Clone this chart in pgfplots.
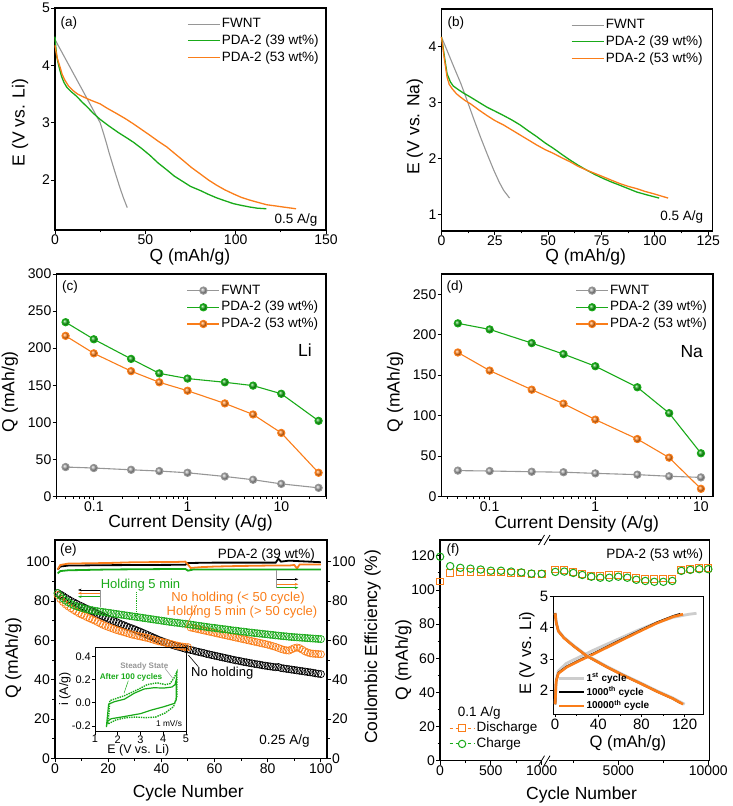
\documentclass[border=0pt]{standalone}
\usepackage{fontspec}
\setmainfont{Liberation Sans}
\usepackage{pgfplots}
\pgfplotsset{compat=1.18}
\usetikzlibrary{arrows.meta}
\definecolor{cgreen}{RGB}{25,170,25}
\definecolor{corange}{RGB}{250,125,25}
\definecolor{cgray}{RGB}{150,150,150}
\definecolor{cball}{RGB}{165,165,165}
\definecolor{clgray}{RGB}{205,205,205}
\newcommand{\ft}{\fontsize{14}{16}\selectfont}
\newcommand{\fl}{\fontsize{17.5}{20}\selectfont}
\newcommand{\fg}{\fontsize{13.5}{16}\selectfont}
\pgfplotsset{
 base/.style={scale only axis, anchor=south west,
   axis line style={line width=1.1pt},
   tick style={line width=0.9pt, black},
   tick align=outside, major tick length=4pt, minor tick length=2.5pt,
   xtick pos=bottom, ytick pos=left,
   tick label style={font=\ft, inner sep=1pt}, label style={font=\fl},
   /pgf/number format/assume math mode=true, clip=false},
 leg/.style={legend cell align=left, legend style={draw=none, fill=none, font=\fg, row sep=1.7pt, inner sep=0pt,
   nodes={inner sep=1.5pt, text height=9.5pt, text depth=2.5pt}}},
 ballleg/.style={legend image code/.code={\draw[mark repeat=2,mark phase=2,##1] plot coordinates {(0pt,0pt) (16pt,0pt) (32pt,0pt)};}},
 shortleg/.style={legend image code/.code={\draw[mark repeat=2,mark phase=2,##1] plot coordinates {(0pt,0pt) (12.5pt,0pt) (25pt,0pt)};}},
 xl/.style 2 args={xlabel style={at={(axis description cs:#1,#2)},anchor=center}},
 yl/.style 2 args={ylabel style={at={(axis description cs:#1,#2)},anchor=center}},
 logx/.style={x filter/.expression={log10(x)}, xtick={-1,0,1}, xticklabels={0.1,1,10},
   minor xtick={-1.398,-1.301,-1.222,-1.155,-1.097,-1.046,-0.699,-0.523,-0.398,-0.301,-0.222,-0.155,-0.097,-0.046,0.301,0.477,0.602,0.699,0.778,0.845,0.903,0.954,1.301,1.477}},
}
\begin{document}
\begin{tikzpicture}[x=1pt,y=1pt]
\useasboundingbox (0,0) rectangle (732,806);
% ---------------- (a)
\begin{axis}[base, leg, ballleg, at={(55pt,576pt)}, width=271pt, height=222pt,
  xmin=0, xmax=150, ymin=1.13, ymax=5, xtick={0,50,100,150}, ytick={2,3,4,5},
  minor x tick num=1, xlabel={Q (mAh/g)}, ylabel={E (V vs. Li)},
  xl={0.498}{-0.122}, yl={-0.129}{0.484},
  legend style={at={(axis description cs:0.487,0.962)}, anchor=north west}]
\addplot[cgray, line width=1.1pt] coordinates {(0,4.45) (5,4.16) (10,3.87) (15,3.58) (20,3.29) (25,3.0) (27,2.8) (28.5,2.64) (30,2.47) (33,2.16) (36,1.86) (38,1.68) (40,1.52)};
\addlegendentry{FWNT}
\addplot[cgreen, line width=1.3pt] coordinates {(0,4.5) (0.5,4.3) (1,4.15) (1.8,4.03) (3,3.88) (3.7,3.8) (5,3.7) (6.5,3.62) (9,3.54) (12,3.46) (15,3.36) (18,3.27) (21,3.17) (24.9,3.06) (30,2.94) (35,2.83) (40,2.73) (43.4,2.66) (48,2.55) (52.6,2.43) (57,2.3) (61.8,2.18) (66,2.07) (71,1.97) (75,1.89) (80.3,1.82) (85,1.75) (89.5,1.69) (94,1.64) (98.7,1.59) (103,1.56) (107.9,1.53) (112,1.51) (117,1.5)};
\addlegendentry{PDA-2 (39 wt\%)}
\addplot[corange, line width=1.3pt] coordinates {(0,4.35) (0.5,4.25) (1.3,4.12) (2.8,3.97) (4,3.84) (5.5,3.74) (7.5,3.64) (10,3.56) (12.5,3.5) (15.7,3.45) (20,3.39) (24.9,3.33) (29,3.25) (34.1,3.16) (39,3.07) (43.4,2.98) (48,2.88) (52.6,2.78) (57,2.68) (61.8,2.58) (66,2.47) (71,2.34) (75.5,2.22) (80.3,2.11) (85,2.0) (89.5,1.91) (94,1.83) (98.7,1.76) (103,1.7) (107.9,1.65) (112.5,1.61) (117.2,1.57) (122,1.55) (126.4,1.53) (133.4,1.5)};
\addlegendentry{PDA-2 (53 wt\%)}
\end{axis}
\node[anchor=west, font=\fg] at (57,782.7) {(a)};
\node[anchor=east, font=\fg] at (321,586) {0.5 A/g};
% ---------------- (b)
\begin{axis}[base, leg, ballleg, at={(441.5pt,575pt)}, width=271pt, height=222pt,
  xmin=0, xmax=127, ymin=0.7, ymax=4.68, xtick={0,25,50,75,100,125}, ytick={1,2,3,4},
  minor x tick num=1, xlabel={Q (mAh/g)}, ylabel={E (V vs. Na)},
  xl={0.532}{-0.118}, yl={-0.098}{0.47},
  legend style={at={(axis description cs:0.477,0.962)}, anchor=north west}]
\addplot[cgray, line width=1.1pt] coordinates {(0.3,4.15) (3,3.9) (5.8,3.64) (9,3.35) (12,3.04) (15,2.72) (18.2,2.39) (21.5,2.07) (24.5,1.79) (27,1.58) (29.1,1.43) (31.9,1.29)};
\addlegendentry{FWNT}
\addplot[cgreen, line width=1.3pt] coordinates {(0,4.18) (0.7,4.0) (1.4,3.82) (2.6,3.52) (4.2,3.37) (5.5,3.3) (7.3,3.25) (10,3.18) (13.6,3.1) (17,3.02) (21.3,2.92) (25,2.85) (29.1,2.77) (33,2.69) (36.9,2.6) (40.5,2.5) (44.7,2.39) (48.5,2.28) (52.5,2.18) (56.5,2.07) (60.3,1.97) (64,1.88) (68.1,1.79) (72,1.71) (75.9,1.64) (79.5,1.58) (83.6,1.52) (87.5,1.46) (91.4,1.4) (96,1.35) (102,1.29)};
\addlegendentry{PDA-2 (39 wt\%)}
\addplot[corange, line width=1.3pt] coordinates {(0,4.18) (0.6,4.0) (1.2,3.82) (2.6,3.46) (3.6,3.33) (5,3.25) (7,3.16) (8.9,3.1) (11,3.04) (13.6,2.98) (17.5,2.87) (21.3,2.77) (25,2.68) (29.1,2.6) (33,2.51) (36.9,2.42) (40.8,2.33) (44.7,2.24) (48.5,2.16) (52.5,2.09) (56.5,2.01) (60.3,1.94) (64,1.86) (68.1,1.79) (72,1.73) (75.9,1.67) (79.7,1.61) (83.6,1.55) (87.5,1.5) (91.4,1.46) (95.3,1.41) (99.2,1.37) (102.7,1.33) (106.2,1.29)};
\addlegendentry{PDA-2 (53 wt\%)}
\end{axis}
\node[anchor=west, font=\fg] at (444,782.7) {(b)};
\node[anchor=east, font=\fg] at (706.7,589.3) {0.5 A/g};
% ---------------- (c)
\begin{axis}[base, leg, ballleg, logx, at={(56.5pt,309.5pt)}, width=269.5pt, height=222.5pt,
  xmin=-1.398, xmax=1.477, ymin=0, ymax=300,
  ytick={0,50,...,300}, xlabel={Current Density (A/g)}, ylabel={Q (mAh/g)},
  xl={0.497}{-0.118}, yl={-0.173}{0.471},
  legend style={at={(axis description cs:0.483,0.96)}, anchor=north west}]
\addplot[cgray, line width=1.1pt, mark=ball, mark size=3.6pt, mark options={ball color=cball}] coordinates {(0.05,39.7) (0.1,38.4) (0.25,36) (0.5,34.3) (1,32) (2.5,27) (5,22.6) (10,17) (25,11.7)};
\addlegendentry{FWNT}
\addplot[cgreen, line width=1.1pt, mark=ball, mark size=3.6pt, mark options={ball color=cgreen}] coordinates {(0.05,235) (0.1,212) (0.25,185.5) (0.5,166) (1,159) (2.5,154) (5,149.5) (10,138.5) (25,102)};
\addlegendentry{PDA-2 (39 wt\%)}
\addplot[corange, line width=1.1pt, mark=ball, mark size=3.6pt, mark options={ball color=corange}] coordinates {(0.05,216.6) (0.1,193) (0.25,169) (0.5,154) (1,142.6) (2.5,125.5) (5,110.6) (10,85.7) (25,32)};
\addlegendentry{PDA-2 (53 wt\%)}
\end{axis}
\node[anchor=west, font=\fg] at (58.5,518.7) {(c)};
\node[font=\fl] at (305,456) {Li};
% ---------------- (d)
\begin{axis}[base, leg, ballleg, logx, at={(441.5pt,309.5pt)}, width=271.5pt, height=222.5pt,
  xmin=-1.456, xmax=1.114, ymin=0, ymax=275,
  ytick={0,50,...,250}, xlabel={Current Density (A/g)}, ylabel={Q (mAh/g)},
  xl={0.498}{-0.125}, yl={-0.171}{0.471},
  legend style={at={(axis description cs:0.493,0.96)}, anchor=north west}]
\addplot[cgray, line width=1.1pt, mark=ball, mark size=3.6pt, mark options={ball color=cball}] coordinates {(0.05,32) (0.1,31.5) (0.25,30.6) (0.5,30) (1,28.6) (2.5,27) (5,25) (10,23.6)};
\addlegendentry{FWNT}
\addplot[cgreen, line width=1.1pt, mark=ball, mark size=3.6pt, mark options={ball color=cgreen}] coordinates {(0.05,214) (0.1,206.5) (0.25,189.6) (0.5,176) (1,161) (2.5,135) (5,103) (10,53.4)};
\addlegendentry{PDA-2 (39 wt\%)}
\addplot[corange, line width=1.1pt, mark=ball, mark size=3.6pt, mark options={ball color=corange}] coordinates {(0.05,178) (0.1,155.6) (0.25,132) (0.5,114.7) (1,95) (2.5,71) (5,48) (10,9.5)};
\addlegendentry{PDA-2 (53 wt\%)}
\end{axis}
\node[anchor=west, font=\fg] at (443,518.7) {(d)};
\node[font=\fl] at (691.7,454.3) {Na};
% ---------------- (e) capacity
\begin{axis}[base, at={(55pt,47.7pt)}, width=272pt, height=218.3pt,
  xmin=0, xmax=102.3, ymin=0, ymax=111, xtick={0,20,...,100}, ytick={0,20,...,100},
  minor x tick num=1, minor y tick num=1, xlabel={Cycle Number}, ylabel={Q (mAh/g)},
  xl={0.49}{-0.16}, yl={-0.153}{0.458}]
\addplot[black, only marks, mark=o, mark size=3.6pt, mark options={line width=0.7pt}] coordinates {
(1,84.0) (2,83.3) (3,82.5) (4,81.6) (5,80.8) (6,80.0) (7,79.3) (8,78.6) (9,77.9) (10,77.3)
(11,76.6) (12,76.0) (13,75.3) (14,74.7) (15,74.0) (16,73.4) (17,72.8) (18,72.2) (19,71.6) (20,71.0)
(21,70.4) (22,69.8) (23,69.3) (24,68.7) (25,68.1) (26,67.6) (27,67.0) (28,66.5) (29,66.0) (30,65.5)
(31,64.9) (32,64.4) (33,63.8) (34,63.2) (35,62.6) (36,62.0) (37,61.4) (38,60.8) (39,60.2) (40,59.7)
(41,59.2) (42,58.7) (43,58.2) (44,57.7) (45,57.3) (46,56.9) (47,56.5) (48,56.1) (49,55.7) (50,55.4)
(51,55.1) (52,54.8) (53,54.4) (54,54.1) (55,53.8) (56,53.5) (57,53.1) (58,52.8) (59,52.5) (60,52.2)
(61,51.9) (62,51.6) (63,51.3) (64,51.0) (65,50.7) (66,50.4) (67,50.1) (68,49.8) (69,49.6) (70,49.3)
(71,49.0) (72,48.8) (73,48.5) (74,48.3) (75,48.0) (76,47.8) (77,47.6) (78,47.3) (79,47.1) (80,46.9)
(81,46.7) (82,46.5) (83,46.3) (84,46.4) (85,45.9) (86,45.7) (87,45.5) (88,45.3) (89,45.1) (90,44.9)
(91,44.7) (92,44.5) (93,44.3) (94,44.1) (95,43.9) (96,43.7) (97,43.5) (98,43.2) (99,43.0) (100,42.8)};
\addplot[corange, only marks, mark=o, mark size=3.6pt, mark options={line width=0.7pt}] coordinates {
(1,83.0) (2,81.0) (3,79.5) (4,78.2) (5,77.2) (6,76.3) (7,75.4) (8,74.6) (9,73.8) (10,73.1)
(11,72.5) (12,71.8) (13,71.2) (14,70.6) (15,70.0) (16,69.3) (17,68.6) (18,67.9) (19,67.3) (20,66.8)
(21,66.3) (22,65.8) (23,65.3) (24,64.9) (25,64.5) (26,64.1) (27,63.7) (28,63.3) (29,62.9) (30,62.6)
(31,62.3) (32,62.0) (33,61.7) (34,61.4) (35,61.1) (36,60.7) (37,60.3) (38,59.9) (39,59.5) (40,59.2)
(41,58.9) (42,58.6) (43,58.3) (44,58.0) (45,57.6) (46,57.3) (47,57.0) (48,56.8) (49,56.6) (50,56.5)
(51,66.5) (52,66.2) (53,65.9) (54,65.6) (55,65.3) (56,65.0) (57,64.7) (58,64.4) (59,64.1) (60,63.8)
(61,63.5) (62,63.2) (63,62.9) (64,62.6) (65,62.3) (66,62.0) (67,61.7) (68,61.4) (69,61.1) (70,60.8)
(71,60.5) (72,60.2) (73,59.9) (74,59.6) (75,59.3) (76,59.0) (77,58.7) (78,58.4) (79,58.1) (80,57.8)
(81,57.4) (82,57.0) (83,56.6) (84,56.1) (85,55.6) (86,55.2) (87,54.9) (88,54.8) (89,55.4) (90,56.0)
(91,56.3) (92,56.0) (93,55.2) (94,54.4) (95,53.8) (96,53.4) (97,53.2) (98,53.1) (99,53.0) (100,52.9)};
\addplot[cgreen, only marks, mark=o, mark size=3.6pt, mark options={line width=0.7pt}] coordinates {
(1,84.0) (2,82.6) (3,81.3) (4,80.2) (5,79.3) (6,78.5) (7,77.9) (8,77.3) (9,76.9) (10,76.5)
(11,76.1) (12,75.8) (13,75.5) (14,75.3) (15,75.0) (16,74.8) (17,74.6) (18,74.4) (19,74.2) (20,74.0)
(21,73.8) (22,73.6) (23,73.4) (24,73.2) (25,73.0) (26,72.8) (27,72.6) (28,72.4) (29,72.2) (30,72.0)
(31,71.8) (32,71.6) (33,71.4) (34,71.2) (35,71.0) (36,70.8) (37,70.6) (38,70.4) (39,70.2) (40,70.0)
(41,69.8) (42,69.6) (43,69.4) (44,69.2) (45,69.0) (46,68.9) (47,68.7) (48,68.5) (49,68.4) (50,68.2)
(51,68.0) (52,67.8) (53,67.6) (54,67.4) (55,67.2) (56,67.0) (57,66.8) (58,66.6) (59,66.4) (60,66.3)
(61,66.1) (62,65.9) (63,65.7) (64,65.6) (65,65.4) (66,65.2) (67,65.0) (68,64.9) (69,64.7) (70,64.5)
(71,64.4) (72,64.2) (73,64.0) (74,63.9) (75,63.7) (76,63.6) (77,63.4) (78,63.3) (79,63.1) (80,63.0)
(81,62.8) (82,62.7) (83,62.5) (84,62.4) (85,62.2) (86,62.1) (87,62.0) (88,61.8) (89,61.7) (90,61.6)
(91,61.5) (92,61.4) (93,61.3) (94,61.2) (95,61.1) (96,61.0) (97,60.9) (98,60.8) (99,60.7) (100,60.6)};
\end{axis}
% ---------------- (e) coulombic efficiency
\begin{axis}[base, at={(55pt,47.7pt)}, width=272pt, height=218.3pt,
  xmin=0, xmax=102.3, ymin=0, ymax=111, axis x line=none, axis y line*=right, ytick pos=right,
  ytick={0,20,...,100}, minor y tick num=1, ylabel={Coulombic Efficiency (\%)},
  yl={1.168}{0.511}]
\addplot[black, line width=1.8pt] coordinates {(1,96) (2,97.5) (5,98) (20,98.2) (49,98.4) (50,99.3) (60,99.5) (83,99.5) (84,101.5) (85,100) (88,100.5) (100,99.7)};
\addplot[corange, line width=1.8pt] coordinates {(1,96) (2,98.3) (5,99) (20,99.3) (30,99.7) (45,99.8) (49,100) (50,98.5) (51,96.8) (55,97.2) (60,97.5) (70,97.8) (80,98) (88,98) (90,98.3) (91,96.5) (92,98.5) (100,98.5)};
\addplot[cgreen, line width=1.8pt] coordinates {(1,94) (2,95.2) (5,95.6) (20,96) (49,96.3) (50,95.4) (52,96) (100,96)};
\end{axis}
\node[anchor=west, font=\fg] at (56.5,256) {(e)};
\node[anchor=east, font=\fg] at (318.3,251) {PDA-2 (39 wt\%)};
\node[anchor=east, font=\fg] at (313.3,65) {0.25 A/g};
\node[font=\fontsize{13}{15}\selectfont, text=cgreen] at (140.5,221) {Holding 5 min};
\node[font=\fontsize{13}{15}\selectfont, text=corange] at (238,208.3) {No holding (< 50 cycle)};
\node[font=\fontsize{13}{15}\selectfont, text=corange] at (242,194.3) {Holding 5 min (> 50 cycle)};
\node[font=\fontsize{13}{15}\selectfont] at (222.2,132.7) {No holding};
\draw[cgreen, densely dotted, line width=0.9pt] (136,214) -- (136,190);
\draw[corange, line width=0.6pt] (196.7,201) -- (185,177.7);
\draw[black, line width=0.6pt] (188.3,151) -- (198.3,139.3);
\draw[cgray, line width=0.6pt] (100,216) -- (100,199.3);
\draw[black, line width=0.7pt, -{Stealth[length=3.5pt]}] (100,216) -- (78,216);
\draw[corange, line width=0.7pt, -{Stealth[length=3.5pt]}] (100,212.7) -- (78,212.7);
\draw[cgreen, line width=0.7pt, -{Stealth[length=3.5pt]}] (100,209.3) -- (78,209.3);
\draw[cgray, line width=0.6pt] (276.7,236) -- (276.7,218.3);
\draw[black, line width=0.7pt, -{Stealth[length=3.5pt]}] (276.7,226.7) -- (298.3,226.7);
\draw[corange, line width=0.7pt, -{Stealth[length=3.5pt]}] (276.7,221.7) -- (298.3,221.7);
\draw[cgreen, line width=0.7pt, -{Stealth[length=3.5pt]}] (276.7,218.3) -- (298.3,218.3);
% ---------------- (e) inset
\begin{axis}[base, at={(95pt,74.3pt)}, width=91pt, height=84.7pt,
  axis line style={line width=0.8pt}, tick style={line width=0.7pt, black},
  major tick length=3pt, minor tick length=2pt,
  tick label style={font=\fontsize{11}{13}\selectfont},
  xticklabel style={inner sep=0.5pt}, label style={font=\fontsize{12.4}{14}\selectfont},
  xmin=1, xmax=5, ymin=-0.25, ymax=0.48, xtick={1,2,3,4,5}, ytick={-0.2,0,0.2,0.4},
  yticklabel style={/pgf/number format/.cd, fixed, fixed zerofill, precision=1},
  xlabel={E (V vs. Li)}, ylabel={i (A/g)}, xl={0.476}{-0.225}, yl={-0.33}{0.504}]
\addplot[cgreen, line width=1.4pt, densely dotted] coordinates {(1.58,-0.182) (1.65,0.018) (2.29,0.06) (2.87,0.112) (3.3,0.156) (3.73,0.171) (4.09,0.156) (4.3,0.165) (4.48,0.215) (4.6,0.265) (4.6,0.053) (4.45,-0.035) (4.09,-0.088) (3.66,-0.124) (3.23,-0.129) (2.8,-0.124) (2.37,-0.129) (1.94,-0.147) (1.58,-0.182)};
\addplot[cgreen, line width=1.2pt] coordinates {(1.5,-0.21) (1.6,-0.012) (1.86,0.009) (2.29,0.03) (2.73,0.082) (3.16,0.118) (3.59,0.129) (4.02,0.126) (4.38,0.135) (4.52,0.156) (4.57,0.2) (4.57,0.024) (4.49,-0.006) (4.02,-0.035) (3.45,-0.065) (3.01,-0.094) (2.58,-0.109) (2.15,-0.124) (1.72,-0.138) (1.55,-0.159) (1.5,-0.21)};
\end{axis}
\node[font=\fontsize{8}{9}\selectfont\bfseries, text=cgray] at (144.3,139.3) {Steady State};
\node[font=\fontsize{8.2}{9}\selectfont\bfseries, text=cgreen] at (131,128.7) {After 100 cycles};
\node[font=\fontsize{8.3}{9}\selectfont] at (169,82.7) {1 mV/s};
\draw[cgray, line width=0.5pt] (165,137.7) -- (172.7,127.7);
\draw[cgreen, line width=0.5pt] (128.3,125.3) -- (124,112.7);
% ---------------- (f) main
\begin{axis}[base, leg, at={(440pt,45.3pt)}, width=269.3pt, height=220.7pt,
  xmin=0, xmax=808, ymin=0, ymax=129.3,
  x filter/.expression={x<=1000 ? x*0.305 : 319+(x-1000)*0.054},
  xtick={0,152.5,305,535,805}, xticklabels={0,500,1000,5000,10000},
  minor xtick={76.25,228.75,400,670}, ytick={0,20,...,120}, minor y tick num=1,
  xlabel={Cycle Number}, ylabel={Q (mAh/g)}, xl={0.526}{-0.155}, yl={-0.136}{0.456},
  legend style={at={(axis description cs:0.033,0.182)}, anchor=north west, row sep=0.7pt}]
\addplot[corange, only marks, mark=square, mark size=3.4pt, mark options={line width=1pt},
  legend image code/.code={\draw[corange,dashed,line width=1pt] (0pt,0pt)--(25pt,0pt); \draw[corange,solid,line width=1pt,fill=white] (9pt,-3.5pt) rectangle (16pt,3.5pt);}]
  coordinates {(1,105) (100,110) (200,110.5) (300,110.5) (400,110.5) (500,110.3) (600,110.3) (700,110) (800,109.8) (900,109.5) (1000,109.3)
  (1500,112) (2000,111.6) (2500,110.6) (3000,109.2) (3500,108.2) (4000,108.2) (4500,108.6) (5000,108.6) (5500,108.2) (6000,107.2) (6500,106.3) (7000,106.3) (7500,106.7) (8000,106.3) (8500,111.8) (9000,112.5) (9500,113) (10000,113)};
\addlegendentry{Discharge}
\addplot[cgreen, only marks, mark=o, mark size=3.7pt, mark options={line width=1pt},
  legend image code/.code={\draw[cgreen,dashed,line width=1pt] (0pt,0pt)--(25pt,0pt); \draw[cgreen,solid,line width=1pt,fill=white] (12.5pt,0pt) circle (3.7pt);}]
  coordinates {(1,119.5) (100,114) (200,113) (300,112.5) (400,112) (500,111.3) (600,111.3) (700,110.8) (800,110.3) (900,109.6) (1000,109.5)
  (1500,110.6) (2000,110.8) (2500,110) (3000,108.8) (3500,107.8) (4000,107.2) (4500,107.2) (5000,107.8) (5500,107.2) (6000,106) (6500,105.3) (7000,104.8) (7500,104.8) (8000,105.3) (8500,111.2) (9000,111.8) (9500,112.2) (10000,112.2)};
\addlegendentry{Charge}
\end{axis}
\foreach \yy in {45.3,266} {
  \fill[white] (541.5,\yy-4) rectangle (548.5,\yy+4);
  \draw[line width=0.8pt] (538.5,\yy-5) -- (544.5,\yy+5);
  \draw[line width=0.8pt] (544,\yy-5) -- (550,\yy+5);
}
\node[anchor=west, font=\fg] at (443,256) {(f)};
\node[anchor=east, font=\fg] at (706.7,251) {PDA-2 (53 wt\%)};
\node[font=\fg] at (479.3,92.7) {0.1 A/g};
% ---------------- (f) inset
\begin{axis}[base, shortleg, at={(553pt,92pt)}, width=150pt, height=118pt,
  axis line style={line width=0.9pt}, tick style={line width=0.8pt, black},
  major tick length=3.5pt, minor tick length=2pt,
  tick label style={font=\fontsize{15}{17}\selectfont}, label style={font=\fontsize{16.6}{19}\selectfont},
  xmin=-2, xmax=137, ymin=1.25, ymax=5, xtick={0,40,80,120}, ytick={2,3,4,5}, minor x tick num=1,
  xlabel={Q (mAh/g)}, ylabel={E (V vs. Li)}, xl={0.5}{-0.248}, yl={-0.175}{0.517},
  legend cell align=left, legend style={draw=none, fill=none, font=\fontsize{10}{12}\selectfont\bfseries,
   at={(axis description cs:0.03,0.35)}, anchor=north west, row sep=2.2pt, inner sep=0pt,
   nodes={inner sep=1pt, text height=7.5pt, text depth=2pt}}]
\addplot[clgray, line width=2.8pt] coordinates {(0,1.56) (1,2.35) (3,2.62) (10,2.85) (23,3.07) (35,3.27) (48,3.47) (63,3.7) (78,3.93) (94,4.15) (109,4.32) (124,4.42) (131,4.45)};
\addlegendentry{1\textsuperscript{st} cycle}
\addplot[black, line width=2pt] coordinates {(0,1.56) (0.9,2.3) (3,2.56) (10.8,2.76) (23,2.97) (35.4,3.17) (47.7,3.38) (63,3.64) (78.5,3.9) (93.8,4.15) (109.2,4.36) (116,4.43)};
\addlegendentry{1000\textsuperscript{th} cycle}
\addplot[corange, line width=2.6pt] coordinates {(0,1.56) (0.9,2.28) (3,2.54) (10.8,2.74) (23,2.95) (35.4,3.15) (47.7,3.36) (63,3.62) (78.5,3.88) (93.8,4.13) (109.2,4.34) (118.5,4.42)};
\addlegendentry{10000\textsuperscript{th} cycle}
\addplot[clgray, line width=2.8pt, forget plot] coordinates {(0,4.47) (1,4.17) (3,3.9) (8,3.69) (17,3.43) (29,3.12) (48,2.76) (63,2.5) (78.5,2.25) (94,1.99) (109,1.76) (120,1.56)};
\addplot[black, line width=2pt, forget plot] coordinates {(0,4.45) (1,4.15) (3,3.88) (8,3.67) (17,3.41) (29,3.1) (48,2.74) (63,2.48) (78.5,2.23) (94,1.97) (109,1.74) (116,1.6)};
\addplot[corange, line width=2.6pt, forget plot] coordinates {(0,4.45) (1,4.15) (3,3.88) (8,3.67) (17,3.41) (29,3.1) (48,2.74) (63,2.48) (78.5,2.23) (94,1.97) (109,1.74) (118.5,1.56)};
\end{axis}
\end{tikzpicture}
\end{document}
